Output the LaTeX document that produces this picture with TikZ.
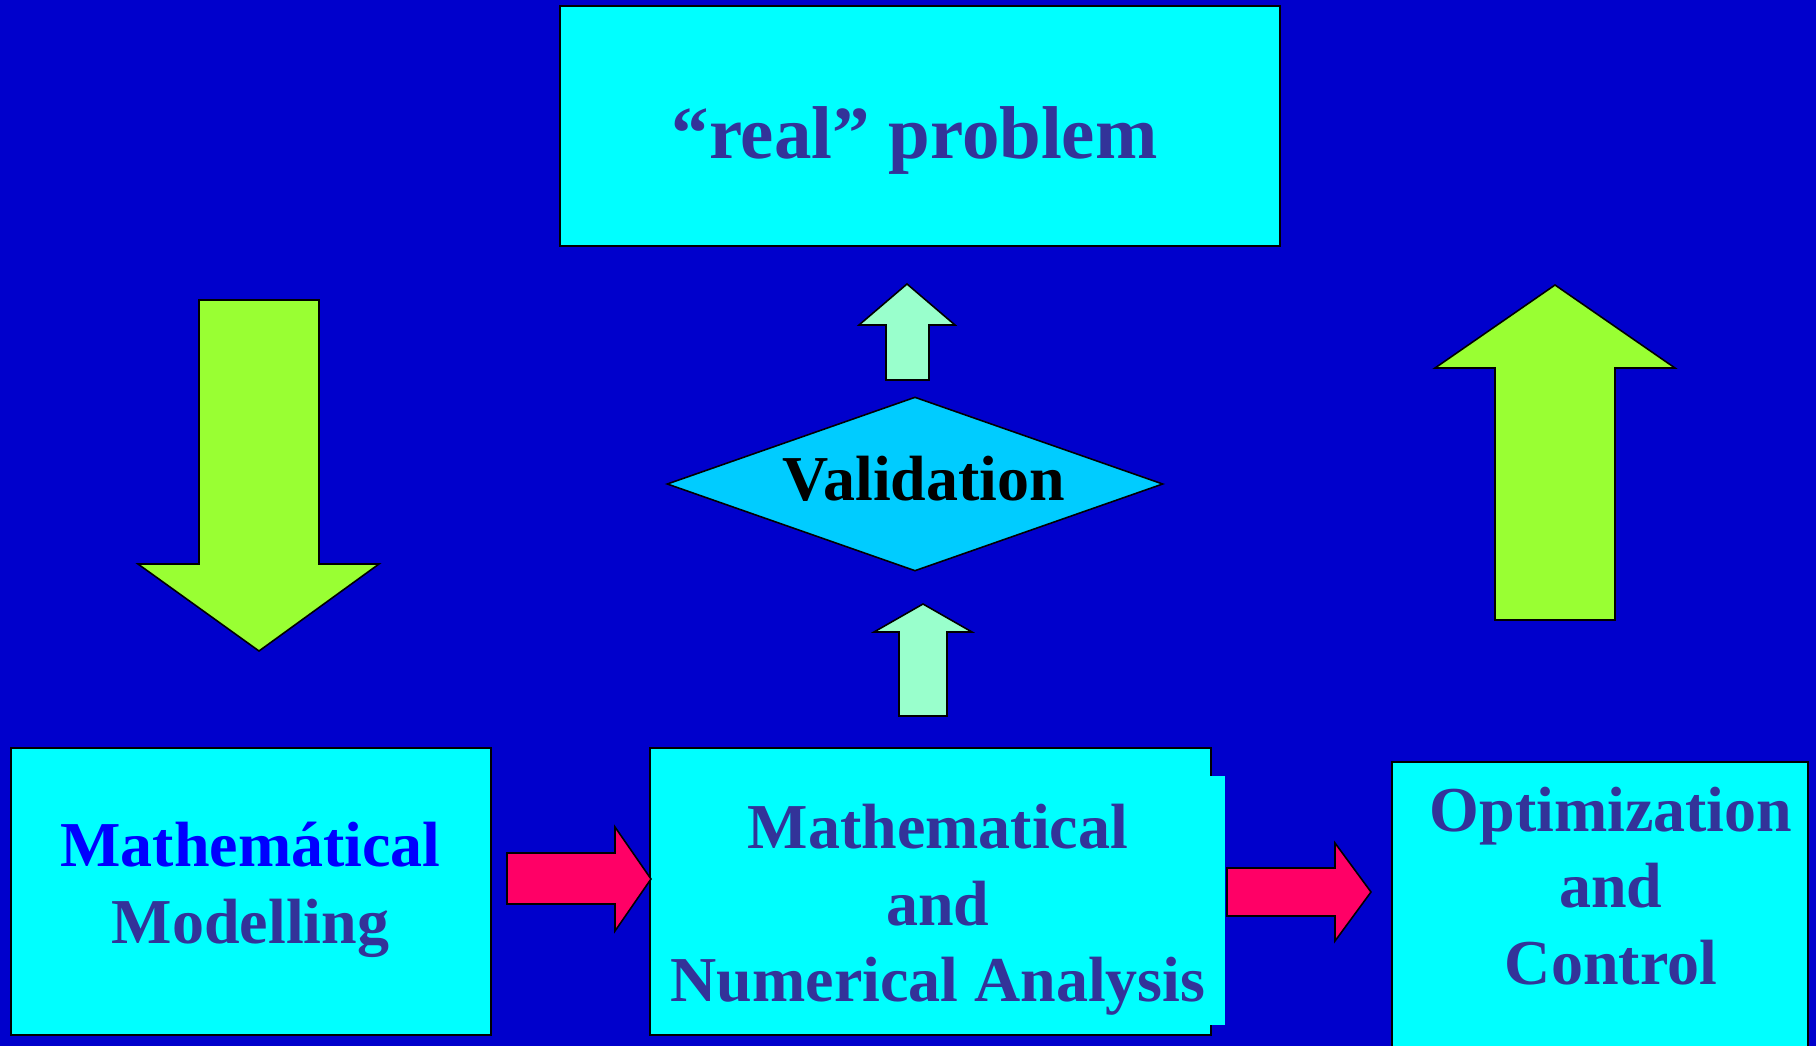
\documentclass[tikz,border=0pt]{standalone}
\usepackage{fontspec}
\setmainfont{Liberation Serif}
\usepackage{xcolor}
\usetikzlibrary{
    positioning,
    shapes.geometric,
}
\definecolor{bgblue}{HTML}{0000CC}
\definecolor{boxcyan}{HTML}{00FFFF}
\definecolor{textblue}{HTML}{333399}
\definecolor{brightblue}{HTML}{0000FF}
\definecolor{diamondblue}{HTML}{00CCFF}
\definecolor{limegreen}{HTML}{99FF33}
\definecolor{mintgreen}{HTML}{99FFCC}
\definecolor{hotpink}{HTML}{FF0066}
\tikzset{
    % Box styles
    box/.style={rectangle, draw=black, line width=0.9pt, fill=boxcyan, inner sep=0pt},
    plain box/.style={box, draw=none},
    decision/.style={diamond, draw=black, line width=0.9pt, fill=diamondblue, inner sep=0pt},
    % Text styles
    box text/.style={align=center, text=textblue, inner sep=0pt,
                     font=\bfseries\fontsize{36.4}{43.6}\selectfont},
    % Block arrow styles
    big arrow/.style={draw=black, line width=0.9pt, fill=limegreen, line join=miter},
    small arrow/.style={big arrow, fill=mintgreen},
    flow arrow/.style={big arrow, fill=hotpink},
}

\begin{document}
\begin{tikzpicture}[x=0.2mm, y=-0.2mm]
    % Background
    \fill[bgblue] (0,0) rectangle (1816,1046);
    \useasboundingbox (0,0) rectangle (1816,1046);

    % Boxes
    \node[box, minimum width=144mm, minimum height=48mm] (real) at (920,126) {};
    \node[box, minimum width=96mm, minimum height=57.4mm] (model) at (251,891.5) {};
    \node[box, minimum width=112.2mm, minimum height=57.4mm] (analysis) at (930.5,891.5) {};
    \node[plain box, minimum width=114.8mm, minimum height=49.8mm] (analysisfill) at (938,900.5) {};
    \node[box, minimum width=83.2mm, minimum height=60.8mm] (optim) at (1600,914) {};
    \node[decision, minimum width=99.2mm, minimum height=34.8mm] (valid) at (915,484) {};

    % Texts
    \node[box text, font=\bfseries\fontsize{42.6}{50}\selectfont] (realtext) at (914.5,140) {“real” problem};
    \node[box text] (modeltext) at (250.5,890) {\textcolor{brightblue}{Mathemátical}\\Modelling};
    \node[box text] (analysistext) at (938,910) {Mathematical\\and\\Numerical Analysis};
    \node[box text] (optimtext) at (1611,886) {Optimization\\and\\Control};
    \node[box text, text=black] (validtext) at (924,479) {Validation};

    % Big arrows
    \draw[big arrow] (199,300) -- (319,300) -- (319,564) -- (379,564) -- (259,651)
        -- (138,564) -- (199,564) -- cycle;
    \draw[big arrow] (1495,620) -- (1615,620) -- (1615,368) -- (1675,368) -- (1555,285)
        -- (1435,368) -- (1495,368) -- cycle;

    % Small arrows round validation
    \draw[small arrow] (886,380) -- (929,380) -- (929,325) -- (955,325) -- (907,284)
        -- (859,325) -- (886,325) -- cycle;
    \draw[small arrow] (899,716) -- (947,716) -- (947,632) -- (972,632) -- (923,604)
        -- (874,632) -- (899,632) -- cycle;

    % Flow arrows
    \draw[flow arrow] (507,853) -- (615,853) -- (615,827) -- (651,879) -- (615,931)
        -- (615,904) -- (507,904) -- cycle;
    \draw[flow arrow] (1227,868) -- (1335,868) -- (1335,843) -- (1371,892) -- (1335,941)
        -- (1335,916) -- (1227,916) -- cycle;
\end{tikzpicture}
\end{document}
